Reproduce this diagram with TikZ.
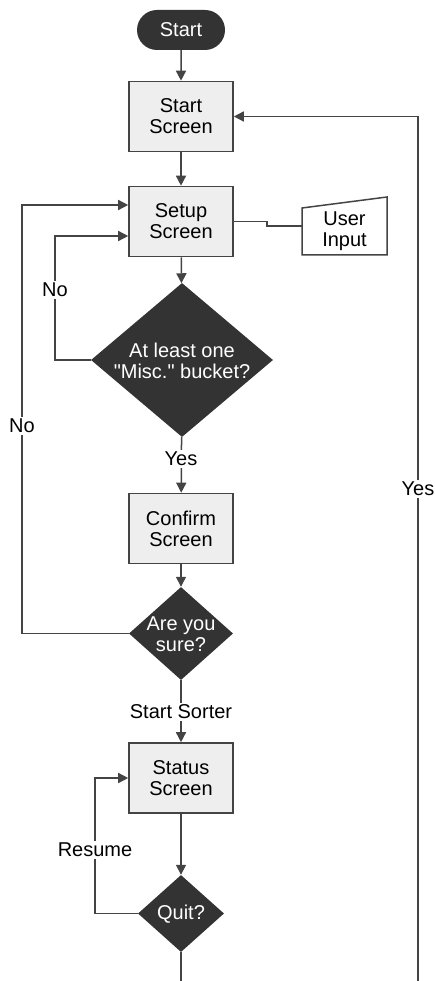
\documentclass[tikz,border=0pt]{standalone}
\usepackage{fontspec}
\setmainfont{Liberation Sans}[Ligatures=TeXOff]
\usetikzlibrary{arrows.meta,shapes.geometric,shapes.misc}
\definecolor{boxfill}{HTML}{EEEEEE}
\definecolor{dark}{HTML}{333333}
\definecolor{linec}{HTML}{444444}
\begin{document}
\begin{tikzpicture}[x=1pt,y=-1pt,
  font=\fontsize{20}{21}\selectfont,
  box/.style={rectangle, draw=linec, fill=boxfill, line width=1.6pt,
    minimum width=104pt, minimum height=70pt, align=center, inner sep=0pt},
  pill/.style={rounded rectangle, fill=dark, text=white,
    minimum width=88pt, minimum height=40pt, inner sep=0pt},
  dia/.style={diamond, fill=dark, draw=none, inner sep=0pt},
  dtext/.style={text=white, align=center, inner sep=0pt},
  line/.style={draw=linec, line width=1.5pt},
  conn/.style={line, -{Triangle[length=10pt,width=10pt]}},
  lab/.style={fill=white, inner sep=2pt, align=center}]
\useasboundingbox (0,0) rectangle (434,981);

% nodes
\node[pill] (start) at (181,30) {Start};
\node[box] (ss) at (181,116.5) {Start\\Screen};
\node[box] (setup) at (181,221.5) {Setup\\Screen};
\node[dia, minimum width=182pt, minimum height=154pt] (d1) at (182,360) {};
\node[dtext] (d1t) at (182,361) {At least one\\"Misc." bucket?};
\node[box] (confirm) at (181,528.5) {Confirm\\Screen};
\node[dia, minimum width=104pt, minimum height=93pt] (d2) at (181,633.5) {};
\node[dtext] (d2t) at (181,634) {Are you\\sure?};
\node[box] (status) at (181,778) {Status\\Screen};
\node[dia, minimum width=86pt, minimum height=77pt] (d3) at (181,913.5) {};
\node[dtext] (d3t) at (181,914) {Quit?};

% user input (manual input shape)
\draw[line, fill=white] (302,208) -- (387,197) -- (387,255) -- (302,255) -- cycle;
\node[align=center, inner sep=0pt] (ui) at (344.5,231) {User\\Input};
\coordinate (uiL) at (302,226);

% free ends at the bottom
\coordinate (bot1) at (181,981);
\coordinate (bot2) at (418,981);

% connectors
\draw[conn] (start) -- (ss);
\draw[conn] (ss) -- (setup);
\draw[line] (setup.east) -- (267,221.5) -- (267,226) -- (uiL);
\draw[conn] (setup) -- (d1);
\draw[conn] (d1.west) -- (55,360) -- (55,236) -- (setup.west |- 0,236);
\draw[conn] (d1) -- (confirm);
\draw[conn] (confirm) -- (d2);
\draw[conn] (d2.west) -- (22,633.5) -- (22,205) -- (setup.west |- 0,205);
\draw[conn] (d2) -- (status);
\draw[conn] (status) -- (d3);
\draw[conn] (d3.west) -- (95,913.5) -- (95,778) -- (status.west);
\draw[line] (d3.south) -- (bot1);
\draw[conn] (bot2) -- (418,116.5) -- (ss.east);

% labels
\node[lab] (no1) at (55,290) {No};
\node[lab] (no2) at (22,426) {No};
\node[lab] (yes1) at (181,459) {Yes};
\node[lab] (sorter) at (181,712) {Start Sorter};
\node[lab] (resume) at (95,850) {Resume};
\node[lab] (yes2) at (418,489) {Yes};
\end{tikzpicture}
\end{document}
